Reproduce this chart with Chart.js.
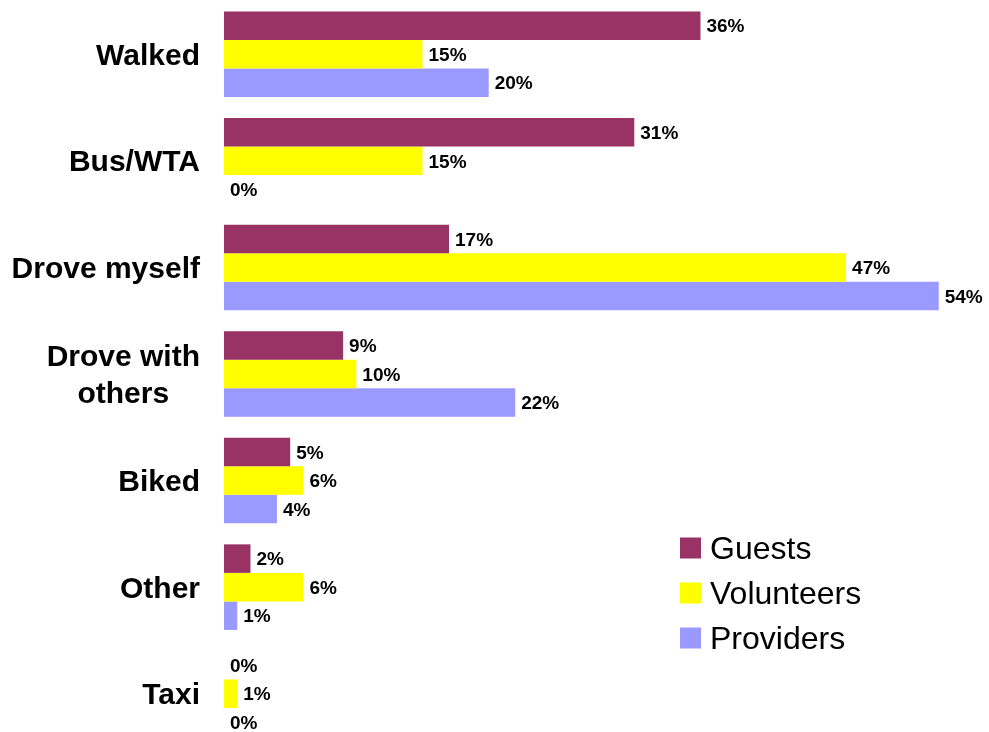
<!DOCTYPE html>
<html>
<head>
<meta charset="utf-8">
<title>How did you get here?</title>
<script src="https://cdn.jsdelivr.net/npm/chart.js@4/dist/chart.umd.min.js"></script>
<style>
    html, body { margin: 0; padding: 0; background: #fff; overflow: hidden; }
    #wrap { width: 989px; height: 747px; }
</style>
</head>
<body>
<div id="wrap"><canvas id="myChart" width="989" height="747"></canvas></div>
<script>
var categories = ['Walked', 'Bus/WTA', 'Drove myself', ['Drove with', 'others'], 'Biked', 'Other', 'Taxi'];
var guests = [36, 31, 17, 9, 5, 2, 0];
var volunteers = [15, 15, 47, 10, 6, 6, 1];
var providers = [20, 0, 54, 22, 4, 1, 0];

var fontFamily = "'Liberation Sans', Arial, Helvetica, sans-serif";

// category names on the left, multi line ones centred on themselves
var categoryLabels = {
    id: 'categoryLabels',
    afterDraw: function(chart) {
        var ctx = chart.ctx;
        var yScale = chart.scales.y;
        var size = 30;
        var lineH = 37.7;
        var right = yScale.right - 24;

        ctx.save();
        ctx.font = 'bold ' + size + 'px ' + fontFamily;
        ctx.fillStyle = '#000';
        ctx.textAlign = 'center';
        ctx.textBaseline = 'alphabetic';

        for (var i = 0; i < categories.length; i++) {
            var lines = Array.isArray(categories[i]) ? categories[i] : [categories[i]];
            var w = 0;
            for (var j = 0; j < lines.length; j++) {
                w = Math.max(w, ctx.measureText(lines[j]).width);
            }
            var y = yScale.getPixelForTick(i) + 0.35 * size - (lines.length - 1) * lineH / 2;
            for (var j = 0; j < lines.length; j++) {
                ctx.fillText(lines[j], right - w / 2, y + j * lineH);
            }
        }
        ctx.restore();
    }
};

// percent at the end of every bar
var valueLabels = {
    id: 'valueLabels',
    afterDatasetsDraw: function(chart) {
        var ctx = chart.ctx;
        var size = 19;

        ctx.save();
        ctx.font = 'bold ' + size + 'px ' + fontFamily;
        ctx.fillStyle = '#000';
        ctx.textAlign = 'left';
        ctx.textBaseline = 'alphabetic';

        chart.data.datasets.forEach(function(ds, d) {
            var meta = chart.getDatasetMeta(d);
            meta.data.forEach(function(bar, i) {
                ctx.fillText(ds.data[i] + '%', bar.x + 6, bar.y + 0.35 * size);
            });
        });
        ctx.restore();
    }
};

// legend box in the lower right
var boxLegend = {
    id: 'boxLegend',
    afterDraw: function(chart) {
        var ctx = chart.ctx;
        var size = 32;
        var left = 680;
        var top = 548;
        var step = 45;
        var box = 21;

        ctx.save();
        ctx.font = size + 'px ' + fontFamily;
        ctx.textAlign = 'left';
        ctx.textBaseline = 'alphabetic';

        chart.data.datasets.forEach(function(ds, d) {
            var cy = top + d * step;
            ctx.fillStyle = ds.backgroundColor;
            ctx.fillRect(left, cy - box / 2, box, box);
            ctx.fillStyle = '#000';
            ctx.fillText(ds.label, left + box + 9, cy + 0.35 * size);
        });
        ctx.restore();
    }
};

var ctx = document.getElementById('myChart').getContext('2d');
var myChart = new Chart(ctx, {
    type: 'bar',
    data: {
        labels: categories,
        datasets: [{
                label: 'Guests',
                data: guests,
                backgroundColor: '#993366'
            },
            {
                label: 'Volunteers',
                data: volunteers,
                backgroundColor: '#FFFF00'
            },
            {
                label: 'Providers',
                data: providers,
                backgroundColor: '#9999FF'
            }
        ]
    },
    options: {
        indexAxis: 'y',
        responsive: false,
        animation: false,
        devicePixelRatio: 1,
        layout: {
            padding: { top: 1, right: 0, bottom: 0, left: 0 }
        },
        datasets: {
            bar: {
                categoryPercentage: 0.803,
                barPercentage: 1.0,
                borderWidth: 0
            }
        },
        scales: {
            x: {
                display: false,
                min: 0,
                max: 57.8
            },
            y: {
                grid: { display: false },
                border: { display: false },
                ticks: { display: false },
                afterFit: function(scale) {
                    scale.width = 224;
                }
            }
        },
        plugins: {
            legend: { display: false },
            tooltip: { enabled: false }
        }
    },
    plugins: [categoryLabels, valueLabels, boxLegend]
});
</script>
</body>
</html>
